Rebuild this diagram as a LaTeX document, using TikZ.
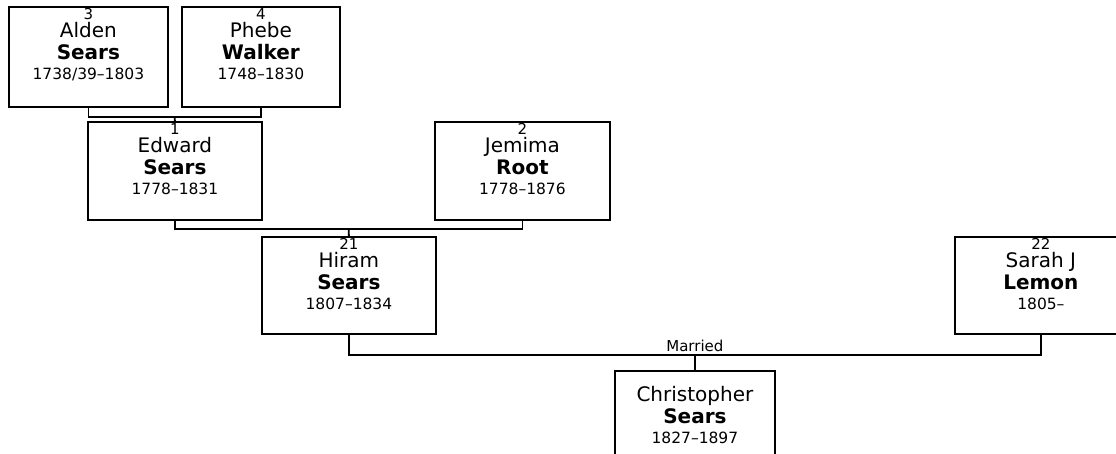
\documentclass[tikz,border=0pt]{standalone}
\usepackage{fontspec}
\setmainfont{DejaVu Sans}
\usetikzlibrary{calc}
\newcommand\pnum[1]{{\fontsize{15}{15}\selectfont\rule{0pt}{13pt}#1\par}}
\newcommand\pgiven[1]{{\fontsize{20}{17.5}\selectfont #1\par}}
\newcommand\psur[1]{{\fontsize{20}{22}\selectfont\bfseries #1\par}}
\newcommand\pdates[1]{{\fontsize{15.5}{20}\selectfont #1\par}}
\newcommand\pbox[6]{\parbox[c][#2][t]{#1}{\centering\pnum{#3}\pgiven{#4}\psur{#5}\pdates{#6}}}
\begin{document}
\begin{tikzpicture}[x=1pt,y=-1pt,
  person/.style={draw, line width=1.8pt, inner sep=0pt, anchor=north west, fill=white},
  link/.style={line width=1.8pt},
  lbl/.style={inner sep=0pt, font=\fontsize{15}{15}\selectfont}]
\useasboundingbox (0,0) rectangle (1116,454);
\clip (0,0) rectangle (1116,454);
\fill[white] (0,0) rectangle (1116,454);
% people
\node[person] (alden) at (8,6) {\pbox{159pt}{100pt}{3}{Alden}{Sears}{1738/39–1803}};
\node[person] (phebe) at (181,6) {\pbox{158pt}{100pt}{4}{Phebe}{Walker}{1748–1830}};
\node[person] (edward) at (87,121) {\pbox{174pt}{98pt}{1}{Edward}{Sears}{1778–1831}};
\node[person] (jemima) at (434,121) {\pbox{175pt}{98pt}{2}{Jemima}{Root}{1778–1876}};
\node[person] (hiram) at (261,236) {\pbox{174pt}{97pt}{21}{Hiram}{Sears}{1807–1834}};
\node[person] (sarah) at (954,236) {\pbox{172pt}{97pt}{22}{Sarah J}{Lemon}{1805–}};
\node[person] (chris) at (614,370) {\pbox{160pt}{100pt}{}{Christopher}{Sears}{1827–1897}};
% couple lines
\draw[link] (alden.south) -- ++(0,9) -| (phebe.south);
\coordinate (c1) at ($(alden.south)!0.5!(phebe.south)+(0,9)$);
\draw[link] (c1) -- (edward.north);
\draw[link] (edward.south) -- ++(0,8) -| (jemima.south);
\coordinate (c2) at ($(edward.south)!0.5!(jemima.south)+(0,8)$);
\draw[link] (c2) -- (hiram.north);
\draw[link] (hiram.south) -- ++(0,20) -| (sarah.south);
\coordinate (c3) at ($(hiram.south)!0.5!(sarah.south)+(0,20)$);
\draw[link] (c3) -- (chris.north);
\node[lbl, anchor=south] (married) at ($(c3)+(0,-3)$) {Married};
\end{tikzpicture}
\end{document}
